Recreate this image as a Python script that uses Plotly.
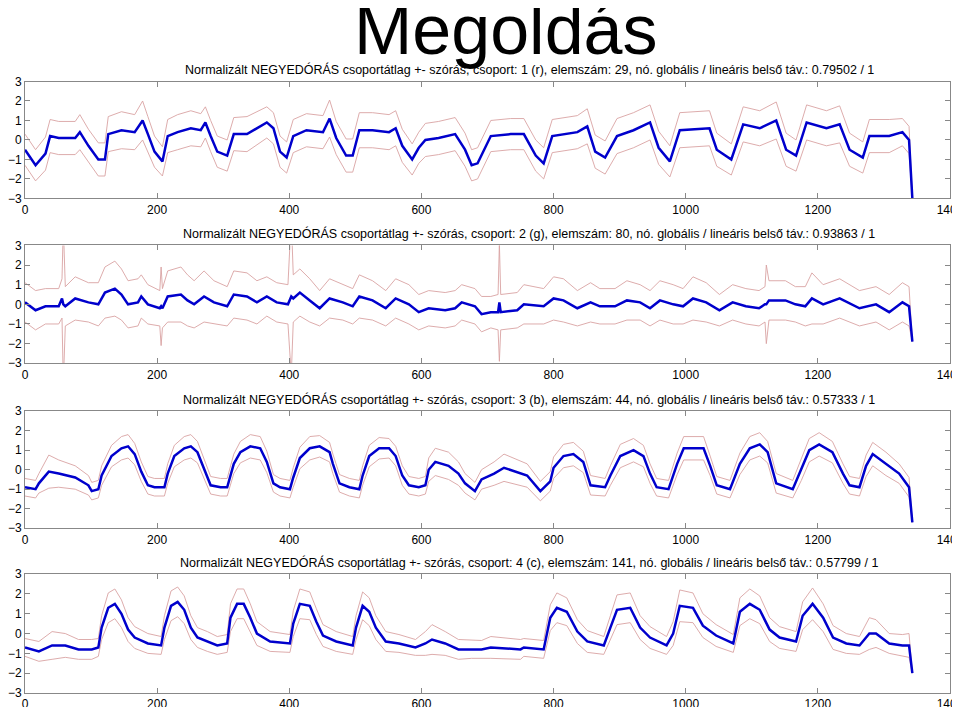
import plotly.graph_objects as go

# (x, mean, std)
rows1 = [(0,-0.5,0.8),(16,-1.3,0.8),(31,-0.7,0.85),(38,0.2,0.85),(51,0.1,0.85),(76,0.1,0.85),(83,0.4,0.9),(96,-0.3,0.85),
 (111,-1.0,0.85),(121,-1.0,0.85),(126,0.3,0.9),(146,0.5,0.95),(166,0.4,0.9),(178,1.0,1.0),(186,0.3,0.9),(196,-0.6,0.8),
 (208,-1.1,0.75),(216,0.2,0.85),(231,0.4,0.9),(251,0.6,0.9),(266,0.5,0.85),(273,0.9,0.8),(281,0.2,0.8),(291,-0.6,0.8),
 (306,-0.8,0.8),(316,0.3,0.85),(336,0.3,0.9),(366,0.9,0.8),(376,0.6,0.8),(386,-0.6,0.8),(396,-0.9,0.8),(406,0.2,0.85),
 (426,0.5,0.85),(451,0.4,0.85),(461,1.1,0.95),(471,0.1,0.85),(486,-0.8,0.85),(496,-0.8,0.85),(506,0.5,0.9),(526,0.5,0.9),
 (551,0.4,0.9),(561,0.6,0.9),(571,-0.3,0.85),(586,-1.0,0.8),(596,-0.4,0.8),(606,0.0,0.85),(626,0.1,0.85),(651,0.3,0.85),
 (666,-0.5,0.85),(676,-1.3,0.8),(685,-1.2,0.8),(705,0.2,0.8),(735,0.3,0.8),(755,0.3,0.8),(773,-0.8,0.8),(785,-1.2,0.8),
 (798,0.2,0.85),(836,0.4,0.85),(851,0.7,0.9),(863,-0.6,0.85),(878,-0.9,0.85),(896,0.2,0.9),(921,0.5,0.9),(946,0.9,0.9),
 (959,-0.4,0.85),(976,-1.1,0.8),(991,0.5,0.9),(1036,0.6,0.9),(1047,-0.5,0.85),(1069,-1.0,0.8),(1087,0.8,0.9),(1112,0.6,0.9),
 (1137,1.0,0.95),(1152,-0.5,0.85),(1167,-0.8,0.8),(1183,0.9,0.9),(1213,0.6,0.9),(1233,0.8,0.95),(1248,-0.5,0.85),
 (1268,-0.9,0.8),(1278,0.2,0.85),(1308,0.2,0.85),(1328,0.4,0.7),(1338,0.0,0.7),(1343,-3.0,0.0)]

rows2 = [(0,0.1,1.0),(16,-0.3,1.0),(31,-0.1,0.9),(51,-0.1,0.9),(56,0.3,1.0),(58,0.0,4.0),(61,-0.1,1.0),(76,0.3,1.1),
 (96,0.1,1.0),(111,0.0,1.1),(121,0.6,1.3),(136,0.8,1.4),(146,0.5,1.3),(156,0.0,1.2),(171,0.1,1.2),(176,0.4,1.1),
 (186,0.0,1.0),(204,-0.2,0.9),(206,-0.1,2.0),(208,-0.2,1.0),(216,0.4,1.3),(236,0.5,1.4),(246,0.2,1.3),(256,0.0,1.2),
 (271,0.4,1.3),(286,0.1,1.1),(306,-0.1,1.0),(316,0.5,1.2),(336,0.4,1.2),(351,0.1,1.1),(366,0.4,1.0),(381,0.1,1.0),
 (398,0.0,1.0),(403,0.4,4.0),(406,0.3,1.2),(416,0.6,1.2),(431,0.2,1.1),(446,-0.2,0.9),(461,0.3,1.0),(481,0.1,0.9),
 (496,-0.1,0.9),(506,0.4,1.1),(526,0.2,1.0),(546,-0.2,0.9),(561,0.3,1.0),(581,0.0,1.0),(596,-0.4,0.9),(611,-0.2,0.9),
 (636,-0.3,0.9),(651,-0.2,0.9),(661,0.1,0.9),(681,-0.1,0.9),(691,-0.5,0.9),(705,-0.4,0.8),(716,-0.4,0.9),(718,0.1,3.0),
 (720,-0.4,0.9),(745,-0.3,0.9),(755,0.0,1.0),(785,-0.1,0.9),(800,0.3,1.1),(815,0.2,1.1),(836,-0.2,0.9),(856,0.1,1.0),
 (870,-0.1,0.9),(893,-0.1,0.9),(911,0.2,1.0),(931,0.1,0.9),(946,-0.2,0.9),(961,0.2,1.0),(981,0.0,1.0),(996,-0.1,0.9),
 (1011,0.3,1.1),(1031,0.1,1.0),(1051,-0.3,0.8),(1071,0.1,0.9),(1091,-0.1,0.9),(1111,-0.2,0.9),(1120,0.0,0.9),
 (1122,0.0,2.0),(1126,0.2,1.0),(1151,0.2,1.0),(1166,0.0,0.9),(1181,-0.1,1.0),(1191,0.3,1.3),(1208,0.0,1.0),
 (1233,0.3,1.0),(1263,-0.2,0.9),(1288,0.0,0.9),(1308,-0.4,0.9),(1328,0.1,1.0),(1338,-0.1,1.0),(1343,-1.9,0.0)]

rows3 = [(0,-0.9,0.45),(16,-1.0,0.45),(21,-0.7,0.5),(36,-0.1,0.85),(51,-0.2,0.7),(76,-0.4,0.6),(96,-0.8,0.5),(101,-1.1,0.45),
 (111,-1.0,0.45),(116,-0.3,0.5),(131,0.7,0.55),(146,1.1,0.6),(156,1.2,0.6),(166,0.8,0.55),(176,-0.1,0.5),(186,-0.8,0.45),
 (196,-0.9,0.45),(211,-0.9,0.45),(216,-0.2,0.5),(226,0.7,0.55),(241,1.1,0.6),(251,1.2,0.6),(261,0.9,0.55),(271,0.0,0.5),
 (281,-0.8,0.45),(296,-0.9,0.45),(306,-0.9,0.45),(316,0.3,0.5),(326,0.9,0.55),(341,1.2,0.6),(356,1.1,0.6),(366,0.4,0.55),
 (376,-0.7,0.45),(386,-0.9,0.45),(401,-1.0,0.45),(406,-0.4,0.5),(416,0.6,0.55),(431,1.1,0.6),(446,1.2,0.55),(461,0.9,0.5),
 (466,0.3,0.5),(476,-0.7,0.45),(491,-0.9,0.45),(506,-1.0,0.45),(511,-0.3,0.5),(521,0.7,0.55),(536,1.1,0.55),(551,1.1,0.5),
 (561,0.7,0.5),(571,-0.3,0.5),(581,-0.8,0.45),(596,-0.9,0.45),(606,-0.8,0.45),(611,0.0,0.6),(621,0.4,0.7),(641,0.2,0.7),
 (656,-0.2,0.6),(666,-0.7,0.5),(681,-1.1,0.45),(691,-0.5,0.5),(710,-0.2,0.6),(725,0.1,0.7),(760,-0.3,0.6),(780,-1.1,0.5),
 (795,-0.6,0.5),(800,0.1,0.55),(815,0.7,0.6),(830,0.8,0.6),(845,0.4,0.55),(856,-0.8,0.5),(878,-0.9,0.45),(886,-0.3,0.5),
 (901,0.7,0.6),(921,1.0,0.6),(936,0.7,0.55),(946,-0.2,0.5),(956,-0.9,0.45),(974,-1.0,0.45),(987,0.3,0.55),(997,1.1,0.6),
 (1027,1.1,0.6),(1037,0.2,0.5),(1047,-0.8,0.45),(1067,-1.0,0.45),(1082,0.3,0.55),(1097,1.1,0.6),(1112,1.3,0.6),
 (1124,0.9,0.55),(1137,-0.7,0.5),(1162,-1.0,0.45),(1175,0.0,0.55),(1187,1.0,0.6),(1202,1.3,0.6),(1222,0.9,0.55),
 (1238,-0.2,0.5),(1248,-0.8,0.45),(1263,-0.9,0.45),(1273,0.2,0.55),(1283,0.8,0.6),(1303,0.3,0.6),(1323,-0.2,0.5),
 (1338,-0.9,0.5),(1343,-2.7,0.0)]

rows4 = [(0,-0.7,0.45),(21,-0.9,0.5),(41,-0.6,0.7),(61,-0.6,0.6),(81,-0.8,0.5),(101,-0.8,0.5),(111,-0.7,0.45),(116,0.3,0.6),
 (126,1.3,0.75),(136,1.5,0.75),(146,1.0,0.7),(156,0.2,0.6),(166,-0.2,0.55),(186,-0.5,0.5),(206,-0.6,0.45),(211,0.3,0.6),
 (221,1.4,0.75),(231,1.6,0.75),(241,1.2,0.7),(251,0.3,0.6),(261,-0.2,0.5),(276,-0.4,0.5),(291,-0.6,0.45),(306,-0.5,0.45),
 (311,0.8,0.7),(321,1.5,0.75),(331,1.5,0.75),(341,0.8,0.7),(351,0.0,0.6),(371,-0.4,0.5),(401,-0.5,0.45),(406,0.5,0.65),
 (416,1.5,0.75),(431,1.4,0.7),(441,0.6,0.65),(451,-0.1,0.55),(471,-0.4,0.5),(496,-0.6,0.45),(501,0.3,0.6),(511,1.4,0.7),
 (521,1.1,0.7),(531,0.3,0.6),(546,-0.4,0.5),(566,-0.5,0.45),(591,-0.7,0.4),(606,-0.5,0.6),(616,-0.3,0.75),(636,-0.5,0.6),
 (656,-0.8,0.5),(676,-0.8,0.45),(691,-0.8,0.45),(705,-0.7,0.55),(750,-0.8,0.5),(755,-0.7,0.45),(785,-0.8,0.45),
 (795,0.8,0.65),(805,1.3,0.75),(820,1.1,0.7),(836,0.1,0.6),(851,-0.4,0.55),(876,-0.6,0.45),(886,0.3,0.6),(896,1.2,0.75),
 (916,1.3,0.75),(931,0.3,0.6),(946,-0.2,0.55),(971,-0.6,0.45),(981,0.0,0.6),(991,1.4,0.8),(1011,1.3,0.75),(1026,0.4,0.6),
 (1046,-0.1,0.55),(1072,-0.5,0.45),(1082,1.1,0.7),(1097,1.5,0.75),(1112,1.2,0.7),(1127,0.2,0.6),(1142,-0.2,0.55),
 (1167,-0.4,0.5),(1177,0.9,0.7),(1192,1.5,0.8),(1208,0.8,0.7),(1223,-0.2,0.6),(1243,-0.5,0.5),(1263,-0.6,0.45),
 (1278,0.0,0.8),(1288,0.0,0.7),(1308,-0.5,0.5),(1328,-0.6,0.55),(1338,-0.6,0.6),(1343,-2.0,0.0)]

titles = [
 "Normalizált NEGYEDÓRÁS csoportátlag +- szórás, csoport: 1 (r), elemszám: 29, nó. globális / lineáris belső táv.: 0.79502 / 1",
 "Normalizált NEGYEDÓRÁS csoportátlag +- szórás, csoport: 2 (g), elemszám: 80, nó. globális / lineáris belső táv.: 0.93863 / 1",
 "Normalizált NEGYEDÓRÁS csoportátlag +- szórás, csoport: 3 (b), elemszám: 44, nó. globális / lineáris belső táv.: 0.57333 / 1",
 "Normalizált NEGYEDÓRÁS csoportátlag +- szórás, csoport: 4 (c), elemszám: 141, nó. globális / lineáris belső táv.: 0.57799 / 1",
]
main_title = "Megoldás"
xticks = [0, 200, 400, 600, 800, 1000, 1200, 1400]
yticks = [-3, -2, -1, 0, 1, 2, 3]

H = 707
tops = [80, 244, 410, 573]
bots = [197, 362, 527, 692]


def ypos(py):
    # paper fraction for a target pixel row (compensates observed vertical scaling)
    return (707 - py) / 0.981 / H


fig = go.Figure()
for i, rows in enumerate([rows1, rows2, rows3, rows4]):
    xs = [r[0] for r in rows]
    m = [r[1] for r in rows]
    s = [r[2] for r in rows]
    up = [a + b for a, b in zip(m, s)]
    lo = [a - b for a, b in zip(m, s)]
    ax = "" if i == 0 else str(i + 1)
    for band in (up, lo):
        fig.add_trace(go.Scatter(x=xs, y=band, mode="lines", line=dict(color="#d9a3a3", width=0.9),
                                 xaxis="x" + ax, yaxis="y" + ax, showlegend=False, hoverinfo="skip"))
    fig.add_trace(go.Scatter(x=xs, y=m, mode="lines", line=dict(color="#0000cc", width=2.5),
                             xaxis="x" + ax, yaxis="y" + ax, showlegend=False))
    common = dict(showline=True, linecolor="#888", mirror="ticks", ticks="inside", ticklen=5, tickcolor="#888",
                  showgrid=False, zeroline=False, tickfont=dict(family="Liberation Sans", size=12, color="black"))
    fig.layout["xaxis" + ax] = dict(range=[0, 1400], tickvals=xticks, domain=[0, 1],
                                    anchor="y" + ax, **common)
    fig.layout["yaxis" + ax] = dict(range=[-3, 3], tickvals=yticks, anchor="x" + ax,
                                    domain=[max(0, ypos(bots[i])), min(1, ypos(tops[i]))], **common)
    fig.add_annotation(x=0.545, y=ypos(tops[i] - 12), xref="paper", yref="paper", text=titles[i],
                       yanchor="middle", showarrow=False,
                       font=dict(family="Liberation Sans", size=12.5, color="black"))

fig.add_annotation(x=0.52, y=min(1, ypos(28)), xref="paper", yref="paper", text=main_title, showarrow=False,
                   yanchor="middle", font=dict(family="Liberation Sans", size=70, color="black"))
fig.update_layout(width=960, height=707, margin=dict(l=16, r=18, t=0, b=0),
                  plot_bgcolor="white", paper_bgcolor="white")
fig.write_html("out.html")
